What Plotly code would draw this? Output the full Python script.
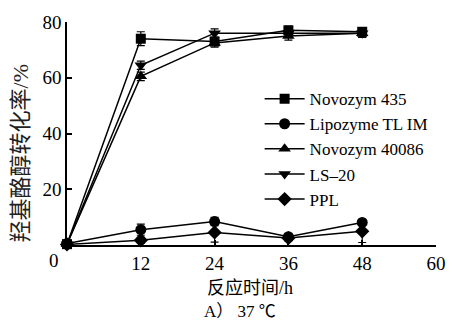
import plotly.graph_objects as go

hours = [0, 12, 24, 36, 48]
series_names = ["Novozym 435", "Lipozyme TL IM", "Novozym 40086", "LS\u201320", "PPL"]
novozym435 = [0.3, 74, 73, 77, 76.5]
novozym435_err = [0.4, 2.5, 1.5, 1.5, 1.5]
lipozyme = [0.5, 5.5, 8.4, 3.0, 8.1]
lipozyme_err = [0.3, 2.0, 1.5, 1.0, 1.0]
novozym40086 = [0.3, 60.5, 72.5, 75, 76]
novozym40086_err = [0.4, 1.5, 1.5, 1.5, 1.5]
ls20 = [0.3, 64.5, 76, 76, 76]
ls20_err = [0.4, 1.5, 1.5, 1.5, 1.5]
ppl = [0.2, 1.7, 4.5, 2.5, 4.9]
ppl_err = [0.2, 1.0, 3.5, 1.0, 4.0]
symbols = ["square", "circle", "triangle-up", "triangle-down", "diamond"]
marker_sizes = [10, 11, 11, 11, 11]
values = [novozym435, lipozyme, novozym40086, ls20, ppl]
errors = [novozym435_err, lipozyme_err, novozym40086_err, ls20_err, ppl_err]

x_ticks = [0, 12, 24, 36, 48, 60]
x_ticktext = ["", "12", "24", "36", "48", "60"]
y_ticks = [20, 40, 60, 80]

LATIN = "Liberation Serif"
CJK = "Liberation Serif, Noto Sans CJK SC"

fig = go.Figure()
for name, ys, es, sym, ms in zip(series_names, values, errors, symbols, marker_sizes):
    fig.add_trace(go.Scatter(
        x=hours, y=ys, name=name, mode="lines+markers",
        line=dict(color="black", width=1.5),
        marker=dict(symbol=sym, size=ms, color="black"),
        error_y=dict(type="data", array=es, visible=True, color="black",
                     thickness=1.2, width=4),
        cliponaxis=False,
    ))

fig.update_layout(
    width=458, height=321,
    margin=dict(l=67, r=13, t=20, b=75.5),
    paper_bgcolor="white", plot_bgcolor="white",
    font=dict(family=LATIN, size=19, color="black"),
    showlegend=True,
    legend=dict(x=0.522, y=0.735, xanchor="left", yanchor="top",
                bgcolor="rgba(0,0,0,0)", font=dict(size=17, family=LATIN),
                tracegroupgap=0, itemwidth=40),
    xaxis=dict(range=[0, 60], tickvals=x_ticks, ticktext=x_ticktext,
               showline=True, linecolor="black", linewidth=1.5,
               ticks="inside", ticklen=5, tickcolor="black", tickwidth=1.5,
               showgrid=False, zeroline=False,
               tickfont=dict(size=19, family=LATIN)),
    yaxis=dict(range=[0, 80], tickvals=y_ticks,
               showline=True, linecolor="black", linewidth=1.5,
               ticks="inside", ticklen=5, tickcolor="black", tickwidth=1.5,
               showgrid=False, zeroline=False,
               tickfont=dict(size=19, family=LATIN)),
)

fig.add_annotation(text="0", xref="paper", yref="paper", x=-0.034, y=0,
                   xanchor="center", yanchor="top", yshift=-3, showarrow=False,
                   font=dict(size=19, family=LATIN))
fig.add_annotation(text="\u7f9f\u57fa\u916a\u9187\u8f6c\u5316\u7387/%", xref="paper", yref="paper",
                   x=-0.125, y=0.41, xanchor="center", yanchor="middle", textangle=-90,
                   showarrow=False, font=dict(size=22, family=CJK, color="#222"))
fig.add_annotation(text="\u53cd\u5e94\u65f6\u95f4/h", xref="paper", yref="paper",
                   x=0.497, y=-0.192, xanchor="center", yanchor="middle",
                   showarrow=False, font=dict(size=18, family=CJK))
fig.add_annotation(text="A\uff09 37 \u2103", xref="paper", yref="paper",
                   x=0.47, y=-0.297, xanchor="center", yanchor="middle",
                   showarrow=False, font=dict(size=17, family=CJK))

fig.write_html("out.html", config={"displayModeBar": False},
               post_script="document.body.style.margin='0px';")
